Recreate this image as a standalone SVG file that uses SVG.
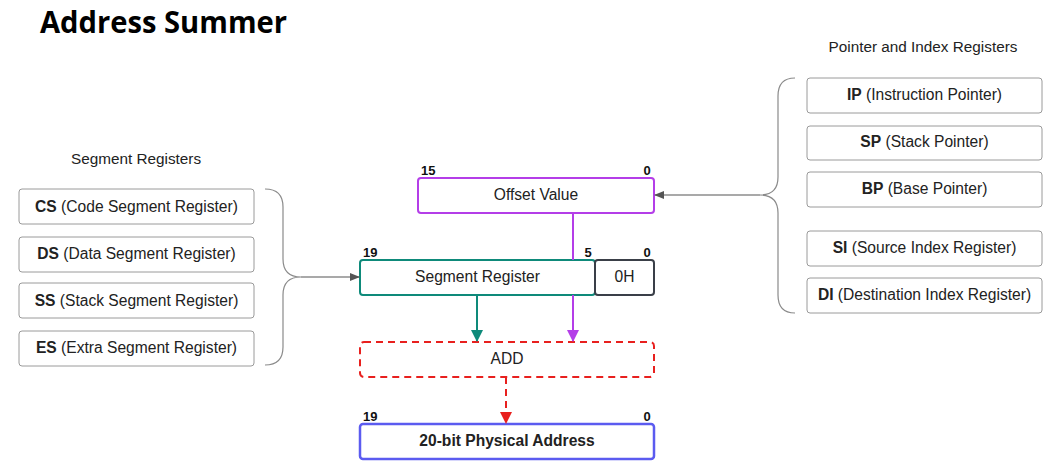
<svg xmlns="http://www.w3.org/2000/svg" width="1048" height="474" viewBox="0 0 1048 474">
<style>
text{font-family:"Liberation Sans",Arial,sans-serif;fill:#222}
.reg{fill:#fff;stroke:#9a9a9a;stroke-width:1}
.t{font-size:15.6px;text-anchor:middle}
.b{font-weight:bold}
.bit{font-size:13px;font-weight:bold;fill:#111}
.brace{fill:none;stroke:#8a8a8a;stroke-width:1.2}
</style>
<defs>
<marker id="ag" markerWidth="10" markerHeight="8" refX="9" refY="4" orient="auto" markerUnits="userSpaceOnUse"><path d="M0,0 L10,4 L0,8 Z" fill="#555"/></marker>
<marker id="at" markerWidth="12" markerHeight="12" refX="6" refY="11" orient="0" markerUnits="userSpaceOnUse"><path d="M0,0 L12,0 L6,12 Z" fill="#0e8a7a"/></marker>
<marker id="ap" markerWidth="12" markerHeight="12" refX="6" refY="11" orient="0" markerUnits="userSpaceOnUse"><path d="M0,0 L12,0 L6,12 Z" fill="#b43ee8"/></marker>
<marker id="ar" markerWidth="12" markerHeight="12" refX="6" refY="11" orient="0" markerUnits="userSpaceOnUse"><path d="M0,0 L12,0 L6,12 Z" fill="#e8201e"/></marker>
</defs>
<rect width="1048" height="474" fill="#fff"/>
<text x="40" y="33" font-weight="bold" font-size="30" textLength="247" lengthAdjust="spacingAndGlyphs" style="font-family:'Open Sans',sans-serif;fill:#000">Address Summer</text>

<text x="136" y="164" class="t" style="font-size:15.3px">Segment Registers</text>
<text x="923" y="52" class="t" style="font-size:15.3px">Pointer and Index Registers</text>

<g id="cs"><rect class="reg" x="19" y="189" width="235" height="35" rx="3"/><text x="136.5" y="212" class="t"><tspan class="b">CS</tspan> (Code Segment Register)</text></g>
<g id="ds"><rect class="reg" x="19" y="237" width="235" height="35" rx="3"/><text x="136.5" y="259" class="t"><tspan class="b">DS</tspan> (Data Segment Register)</text></g>
<g id="ss"><rect class="reg" x="19" y="283" width="235" height="35" rx="3"/><text x="136.5" y="306" class="t"><tspan class="b">SS</tspan> (Stack Segment Register)</text></g>
<g id="es"><rect class="reg" x="19" y="331" width="235" height="35" rx="3"/><text x="136.5" y="353" class="t"><tspan class="b">ES</tspan> (Extra Segment Register)</text></g>

<g id="ip"><rect class="reg" x="807" y="78" width="235" height="35" rx="3"/><text x="924.5" y="100" class="t"><tspan class="b">IP</tspan> (Instruction Pointer)</text></g>
<g id="sp"><rect class="reg" x="807" y="126" width="235" height="34" rx="3"/><text x="924.5" y="147" class="t"><tspan class="b">SP</tspan> (Stack Pointer)</text></g>
<g id="bp"><rect class="reg" x="807" y="172" width="235" height="35" rx="3"/><text x="924.5" y="194" class="t"><tspan class="b">BP</tspan> (Base Pointer)</text></g>
<g id="si"><rect class="reg" x="807" y="231" width="235" height="35" rx="3"/><text x="924.5" y="253" class="t"><tspan class="b">SI</tspan> (Source Index Register)</text></g>
<g id="di"><rect class="reg" x="807" y="278" width="235" height="35" rx="3"/><text x="924.5" y="300" class="t"><tspan class="b">DI</tspan> (Destination Index Register)</text></g>

<g id="offset">
<rect x="418" y="178" width="236" height="35" rx="3" fill="#fff" stroke="#b43ee8" stroke-width="2"/>
<text x="536" y="200" class="t">Offset Value</text>
<text x="421" y="175" class="bit">15</text>
<text x="647" y="175" class="bit" text-anchor="middle">0</text>
</g>
<g id="segreg">
<rect x="360" y="260" width="235" height="35" rx="3" fill="#fff" stroke="#0e8a7a" stroke-width="2"/>
<text x="477.5" y="282" class="t">Segment Register</text>
<text x="363" y="257" class="bit">19</text>
<text x="588" y="257" class="bit" text-anchor="middle">5</text>
</g>
<g id="zeroh">
<rect x="595" y="260" width="59" height="35" rx="3" fill="#fff" stroke="#3a3f48" stroke-width="2"/>
<text x="624.5" y="282" class="t">0H</text>
<text x="647" y="257" class="bit" text-anchor="middle">0</text>
</g>
<g id="add">
<rect x="360" y="342" width="294" height="35" rx="4" fill="#fff" stroke="#e8201e" stroke-width="2" stroke-dasharray="7,5"/>
<text x="507" y="364" class="t">ADD</text>
</g>
<g id="phys">
<rect x="360" y="424" width="294" height="35" rx="3" fill="#fff" stroke="#5b5bf0" stroke-width="2.5"/>
<text x="507" y="446" class="t b">20-bit Physical Address</text>
<text x="363" y="421" class="bit">19</text>
<text x="647" y="421" class="bit" text-anchor="middle">0</text>
</g>

<g id="connectors">
<path class="brace" d="M265,189 Q283,189 283,207 L283,259 Q283,277 301,277 Q283,277 283,295 L283,347 Q283,365 265,365"/>
<line x1="301" y1="277" x2="359" y2="277" stroke="#555" stroke-width="1.2" marker-end="url(#ag)"/>
<path class="brace" d="M795,78 Q778,78 778,96 L778,177 Q778,195 760,195 Q778,195 778,213 L778,295 Q778,313 795,313"/>
<line x1="760" y1="195" x2="655" y2="195" stroke="#555" stroke-width="1.2" marker-end="url(#ag)"/>
<line x1="573" y1="213" x2="573" y2="260" stroke="#b43ee8" stroke-width="2"/>
<line x1="573" y1="295" x2="573" y2="341" stroke="#b43ee8" stroke-width="2" marker-end="url(#ap)"/>
<line x1="477" y1="295" x2="477" y2="341" stroke="#0e8a7a" stroke-width="2" marker-end="url(#at)"/>
<line x1="506" y1="377" x2="506" y2="423" stroke="#e8201e" stroke-width="2" stroke-dasharray="7,5" marker-end="url(#ar)"/>
</g>
</svg>
